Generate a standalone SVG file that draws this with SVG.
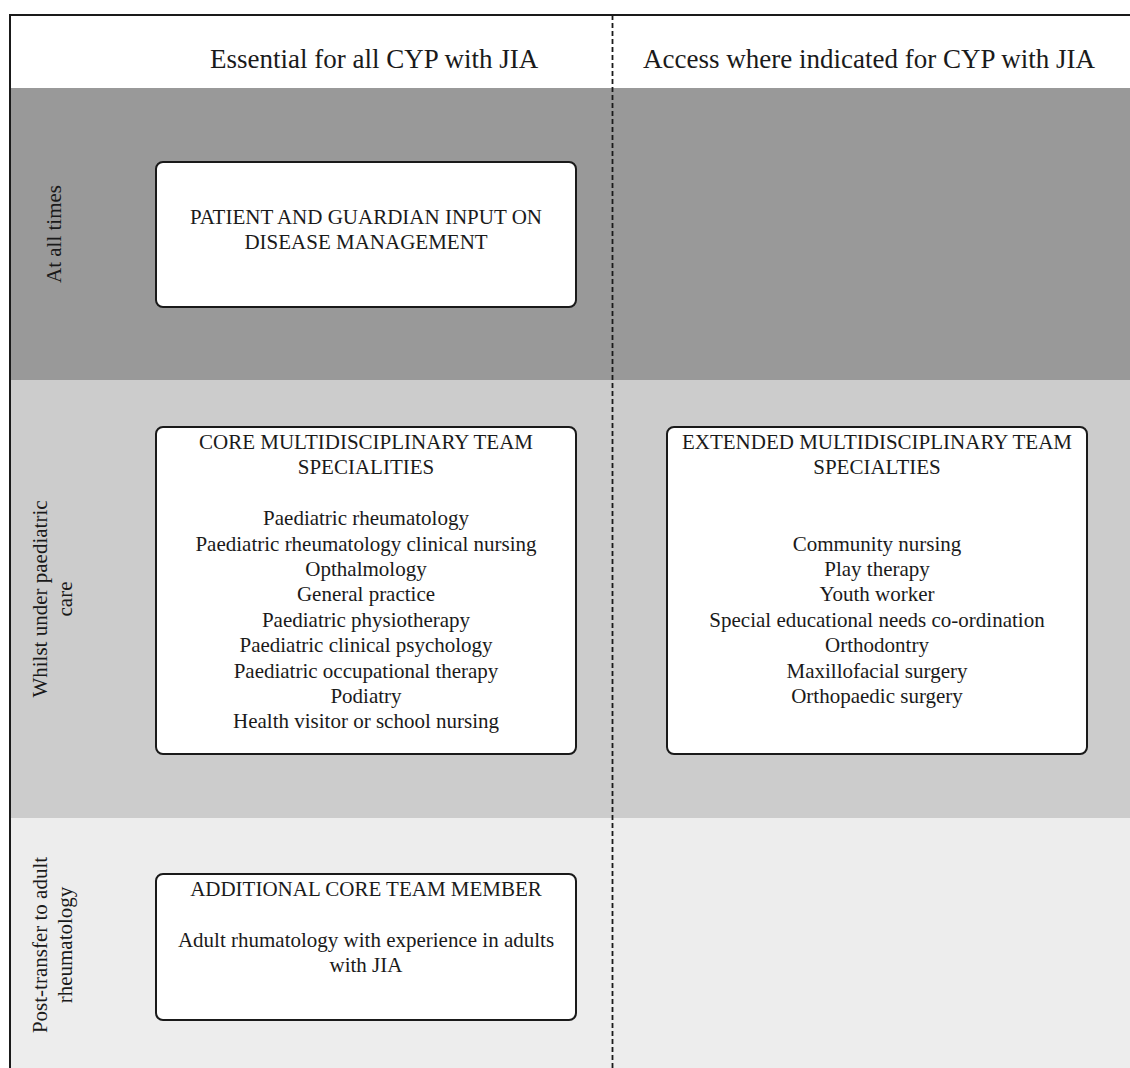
<svg xmlns="http://www.w3.org/2000/svg" width="1130" height="1068" viewBox="0 0 1130 1068">
<style>
text{font-family:"Liberation Serif","Times New Roman",serif;fill:#1a1a1a}
.hd{font-size:27px}
.t{font-size:21px;text-anchor:middle}
.lbl{font-size:21px;text-anchor:middle}
.box{fill:#fff;stroke:#1a1a1a;stroke-width:2}
</style>
<g id="background">
<rect x="10" y="15" width="1130" height="73" fill="#fff"/>
<rect x="10" y="88" width="1130" height="292" fill="#999"/>
<rect x="10" y="380" width="1130" height="438" fill="#ccc"/>
<rect x="10" y="818" width="1130" height="260" fill="#ededed"/>
<path d="M10 1080 V15 H1140" fill="none" stroke="#1a1a1a" stroke-width="2"/>
</g>
<g id="header">
<text class="hd" x="210" y="68">Essential for all CYP with JIA</text>
<text class="hd" x="1095" y="68" text-anchor="end">Access where indicated for CYP with JIA</text>
</g>
<g id="row-labels">
<text class="lbl" transform="translate(61,234) rotate(-90)">At all times</text>
<text class="lbl" transform="translate(47,599) rotate(-90)">Whilst under paediatric</text>
<text class="lbl" transform="translate(72,599) rotate(-90)">care</text>
<text class="lbl" transform="translate(47,945) rotate(-90)">Post-transfer to adult</text>
<text class="lbl" transform="translate(72,945) rotate(-90)">rheumatology</text>
</g>
<g id="connectors">
<line x1="612.5" y1="15" x2="612.5" y2="1068" stroke="#1a1a1a" stroke-width="1.8" stroke-dasharray="5,3"/>
</g>
<g id="patient-input">
<rect class="box" x="156" y="162" width="420" height="145" rx="7"/>
<text class="t" x="366" y="224">PATIENT AND GUARDIAN INPUT ON</text>
<text class="t" x="366" y="249.4">DISEASE MANAGEMENT</text>
</g>
<g id="core-mdt">
<rect class="box" x="156" y="427" width="420" height="327" rx="7"/>
<text class="t" x="366" y="449">CORE MULTIDISCIPLINARY TEAM</text>
<text class="t" x="366" y="474.4">SPECIALITIES</text>
<text class="t" x="366" y="525.2">Paediatric rheumatology</text>
<text class="t" x="366" y="550.6">Paediatric rheumatology clinical nursing</text>
<text class="t" x="366" y="576">Opthalmology</text>
<text class="t" x="366" y="601.4">General practice</text>
<text class="t" x="366" y="626.8">Paediatric physiotherapy</text>
<text class="t" x="366" y="652.2">Paediatric clinical psychology</text>
<text class="t" x="366" y="677.6">Paediatric occupational therapy</text>
<text class="t" x="366" y="703">Podiatry</text>
<text class="t" x="366" y="728.4">Health visitor or school nursing</text>
</g>
<g id="extended-mdt">
<rect class="box" x="667" y="427" width="420" height="327" rx="7"/>
<text class="t" x="877" y="449">EXTENDED MULTIDISCIPLINARY TEAM</text>
<text class="t" x="877" y="474.4">SPECIALTIES</text>
<text class="t" x="877" y="550.6">Community nursing</text>
<text class="t" x="877" y="576">Play therapy</text>
<text class="t" x="877" y="601.4">Youth worker</text>
<text class="t" x="877" y="626.8">Special educational needs co-ordination</text>
<text class="t" x="877" y="652.2">Orthodontry</text>
<text class="t" x="877" y="677.6">Maxillofacial surgery</text>
<text class="t" x="877" y="703">Orthopaedic surgery</text>
</g>
<g id="additional-core">
<rect class="box" x="156" y="874" width="420" height="146" rx="7"/>
<text class="t" x="366" y="896">ADDITIONAL CORE TEAM MEMBER</text>
<text class="t" x="366" y="946.8">Adult rhumatology with experience in adults</text>
<text class="t" x="366" y="972.2">with JIA</text>
</g>
</svg>
